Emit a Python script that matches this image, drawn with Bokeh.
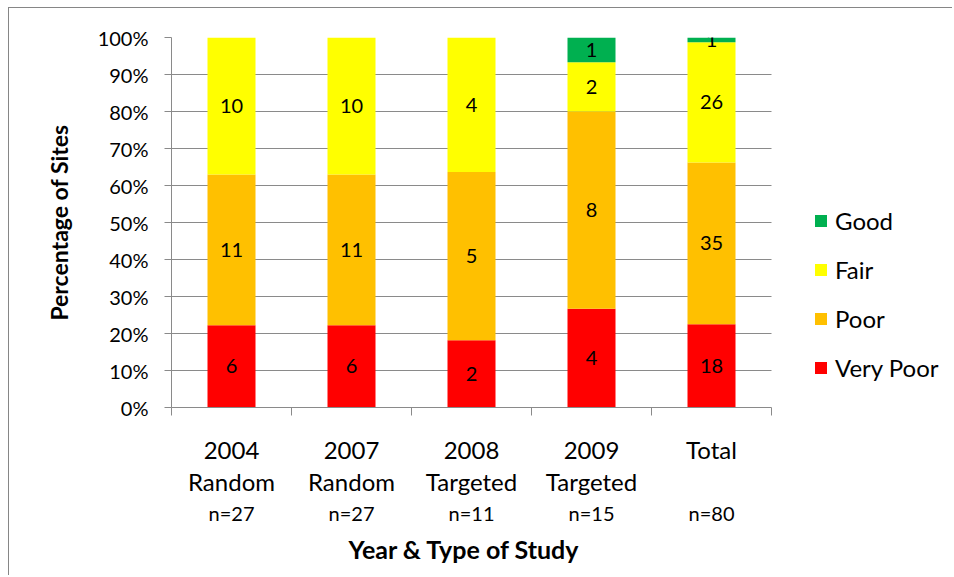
from bokeh.plotting import figure
from bokeh.models import (ColumnDataSource, FixedTicker, SingleIntervalTicker,
                          NumeralTickFormatter, LinearAxis, Legend, LegendItem, Range1d, Title)
from bokeh.core.properties import value
from bokeh.embed import file_html
from bokeh.resources import INLINE

# ---------------- data ----------------
categories = ["2004\nRandom", "2007\nRandom", "2008\nTargeted", "2009\nTargeted", "Total"]
very_poor = [6, 6, 2, 4, 18]
poor = [11, 11, 5, 8, 35]
fair = [10, 10, 4, 2, 26]
good = [0, 0, 0, 1, 1]
series_names = ["Very Poor", "Poor", "Fair", "Good"]
series_colors = ["#FF0000", "#FFC000", "#FFFF00", "#00B050"]
y_label = "Percentage of Sites"
x_label = "Year & Type of Study"

FONT = "Lato"
GRID = "#8a8a8a"

series = [very_poor, poor, fair, good]
totals = [sum(v) for v in zip(*series)]
n_labels = ["n=%d" % t for t in totals]
ncat = len(categories)
centers = [i + 0.5 for i in range(ncat)]
bounds = [i for i in range(ncat + 1)]

keys = ["vp", "p", "f", "g"]
data = {"x": centers}
for k, s in zip(keys, series):
    data[k] = [v / t for v, t in zip(s, totals)]
src = ColumnDataSource(data)

# labels at segment centres
lx, ly, lt = [], [], []
for i, t in enumerate(totals):
    cum = 0
    for s in series:
        v = s[i]
        if v > 0:
            lx.append(centers[i])
            ly.append((cum + v / 2) / t)
            lt.append(str(v))
        cum += v
lsrc = ColumnDataSource(dict(x=lx, y=ly, text=lt))

# frame is 780px wide, 120px per category -> 6.5 categories of room (legend sits in the extra room)
p = figure(width=944, height=568, x_range=Range1d(0, 6.5), y_range=Range1d(0, 1),
           output_backend="svg", toolbar_location=None,
           min_border_left=162, min_border_right=2, min_border_top=29, min_border_bottom=169)
p.styles = {"margin-left": "8px", "margin-top": "7px",
            "border-left": "1px solid #868686", "border-top": "1px solid #868686"}
p.outline_line_color = None
p.background_fill_color = "white"
p.border_fill_color = "white"

renderers = p.vbar_stack(keys, x="x", width=0.4, source=src,
                         fill_color=series_colors, line_color=None)

p.text(x="x", y="y", text="text", source=lsrc, text_align="center", text_baseline="middle",
       text_font=value(FONT), text_font_size="20px", text_color="black")

# grids
p.xgrid.grid_line_color = None
p.ygrid.grid_line_color = GRID
p.ygrid.grid_line_width = 1
p.ygrid.cross_bounds = (0, ncat)

# y axis
ya = p.yaxis[0]
ya.ticker = SingleIntervalTicker(interval=0.1, num_minor_ticks=0)
ya.formatter = NumeralTickFormatter(format="0%")
ya.axis_line_color = GRID
ya.major_tick_line_color = GRID
ya.major_tick_in = 0
ya.major_tick_out = 7
ya.minor_tick_line_color = None
ya.major_label_standoff = 16
ya.major_label_text_font = FONT
ya.major_label_text_font_size = "20px"
ya.major_label_text_color = "black"
ya.axis_label = y_label
ya.axis_label_text_font = FONT
ya.axis_label_text_font_style = "bold"
ya.axis_label_text_font_size = "23px"
ya.axis_label_text_color = "black"
ya.axis_label_standoff = 22

# x axis (main)
xa = p.xaxis[0]
xa.bounds = (0, ncat)
xa.ticker = FixedTicker(ticks=centers, minor_ticks=bounds)
xa.major_label_overrides = {c: lab for c, lab in zip(centers, categories)}
xa.axis_line_color = GRID
xa.major_tick_line_color = None
xa.major_tick_in = 0
xa.major_tick_out = 8
xa.minor_tick_line_color = GRID
xa.minor_tick_in = 0
xa.minor_tick_out = 8
xa.major_label_standoff = 19
xa.major_label_text_font = FONT
xa.major_label_text_font_size = "24px"
xa.major_label_text_color = "black"
xa.major_label_text_line_height = 1.13

# x axis (n counts)
xb = LinearAxis(ticker=FixedTicker(ticks=centers), bounds=(0, ncat),
                major_label_overrides={c: lab for c, lab in zip(centers, n_labels)})
xb.axis_line_color = None
xb.major_tick_line_color = None
xb.minor_tick_line_color = None
xb.major_tick_in = 0
xb.major_tick_out = 0
xb.major_label_standoff = 1
xb.major_label_text_font = FONT
xb.major_label_text_font_size = "20px"
xb.major_label_text_color = "black"
p.add_layout(xb, "below")

# x axis title, centred under the five categories
xt = Title(text=x_label, align="left", offset=177, standoff=8,
           text_font=FONT, text_font_style="bold", text_font_size="25px", text_color="black")
p.add_layout(xt, "below")

# legend
items = [LegendItem(label=name, renderers=[r]) for name, r in zip(series_names, renderers)]
legend = Legend(items=list(reversed(items)), location=(642, 25), orientation="vertical",
                glyph_width=15, glyph_height=15, label_standoff=7, spacing=20,
                padding=0, margin=0, border_line_color=None, background_fill_color=None,
                label_text_font=FONT, label_text_font_size="24px", label_text_color="black")
p.add_layout(legend, "center")

open("out.html", "w").write(file_html(p, INLINE))
